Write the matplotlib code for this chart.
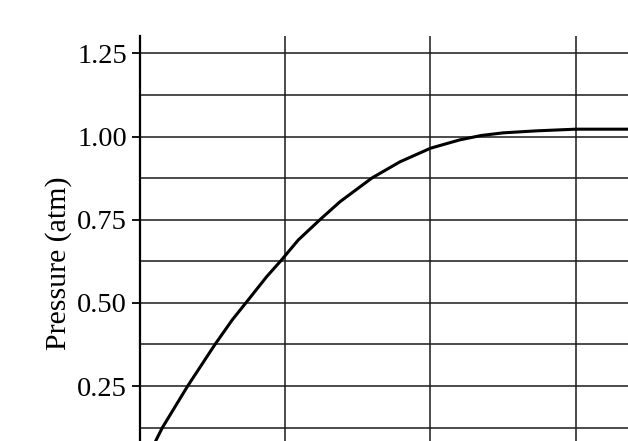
"""
Pressure vs. time curve with a plain grid, read off the reference picture.
"""

import matplotlib
matplotlib.use("Agg")
import matplotlib.pyplot as plt

# Curve points (x in grid-column units, pressure in atm)
x_vals = [0.111, 0.157, 0.331, 0.519, 0.638, 0.737, 0.875, 0.973, 1.092,
          1.241, 1.379, 1.601, 1.792, 2.003, 2.204, 2.35, 2.502, 2.732,
          3.0, 3.36]
pressure = [0.085, 0.125, 0.25, 0.375, 0.449, 0.503, 0.579, 0.627, 0.689,
            0.75, 0.804, 0.876, 0.924, 0.965, 0.990, 1.003, 1.011, 1.017,
            1.022, 1.022]

y_ticks = [0.25, 0.50, 0.75, 1.00, 1.25]
y_grid = [0.125, 0.25, 0.375, 0.5, 0.625, 0.75, 0.875, 1.0, 1.125, 1.25]
x_grid = [1, 2, 3]


def main():
    plt.rcParams['font.family'] = ['Liberation Serif', 'DejaVu Serif']

    fig = plt.figure(figsize=(6.28, 4.41), dpi=100)
    ax = fig.add_axes([139.5 / 628, 0, 1 - 139.5 / 628, (441 - 36) / 441])

    # Grid lines
    for g in y_grid:
        ax.axhline(g, color='#1a1a1a', lw=1.1, zorder=1)
    for g in x_grid:
        ax.axvline(g, color='#1a1a1a', lw=1.1, zorder=1)

    ax.plot(x_vals, pressure, color='black', lw=2.2, zorder=3,
            solid_capstyle='round', solid_joinstyle='round')

    ax.set_xlim(0, 3.36)
    ax.set_ylim(0.085, 1.302)

    for side in ['top', 'right', 'bottom']:
        ax.spines[side].set_visible(False)
    ax.spines['left'].set_linewidth(1.6)

    ax.set_xticks([])
    ax.set_yticks(y_ticks)
    ax.set_yticklabels([f"{t:.2f}" for t in y_ticks])
    ax.tick_params(axis='y', direction='out', length=6, width=1.3,
                   labelsize=20.5, pad=3)

    ax.set_ylabel('Pressure (atm)', fontsize=21.5)
    # label sits a bit below the middle of the axis in the reference
    ax.yaxis.set_label_coords(-0.139, 0.438)

    fig.savefig('out.png', dpi=100)


if __name__ == "__main__":
    main()
